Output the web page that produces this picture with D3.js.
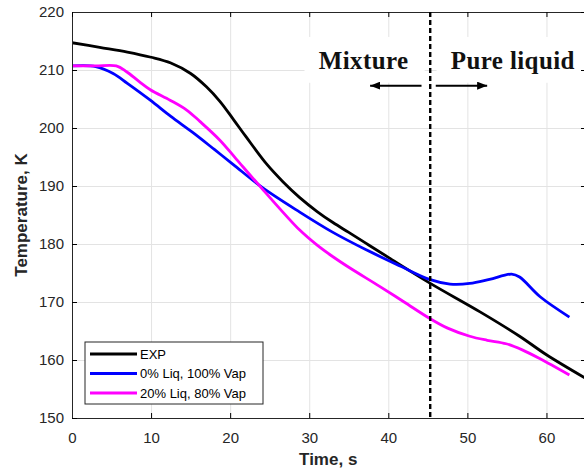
<!DOCTYPE html>
<html>
<head>
<meta charset="utf-8">
<script src="https://cdn.jsdelivr.net/npm/d3@7"></script>
<style>
  body { margin: 0; background: #fff; }
  svg { display: block; font-family: "Liberation Sans", Arial, sans-serif; }
</style>
</head>
<body>
<div id="chart"></div>
<script>
// data
var expT = [0, 3.5, 7, 10, 12.5, 15, 17, 18.7, 20.4, 22, 24.6, 26.7, 28.8, 31, 33, 35, 37.2, 40, 45.2, 51.6, 56.6, 60, 65];
var expV = [214.7, 213.9, 213.1, 212.2, 211.2, 209.4, 207.1, 204.6, 201.5, 198.5, 193.8, 190.7, 188.0, 185.6, 183.7, 182.0, 180.1, 177.7, 173.3, 168.3, 164.1, 160.9, 156.8];

var vapT = [0, 3, 5.2, 7, 9.9, 12.5, 15.3, 18, 20.4, 24, 28.8, 33, 37.2, 41.5, 45.2, 47.8, 50.3, 52.8, 55.6, 56.6, 59.2, 62.9];
var vapV = [210.7, 210.6, 209.4, 207.7, 204.8, 202.0, 199.2, 196.3, 193.7, 189.8, 185.5, 182.0, 179.0, 176.2, 173.9, 173.1, 173.2, 173.9, 174.8, 174.3, 170.9, 167.4];

var liqT = [0, 3, 5.6, 6.9, 8.5, 9.9, 12.4, 14.5, 16.2, 18.7, 20.8, 24, 28.8, 31, 33, 35.1, 38.9, 42, 45.2, 47.5, 50.3, 52.5, 54.9, 57, 59.2, 62.9];
var liqV = [210.7, 210.7, 210.7, 209.7, 208.0, 206.6, 204.8, 203.1, 201.1, 197.9, 194.6, 189.6, 182.4, 179.8, 177.8, 175.9, 172.7, 170.0, 167.2, 165.5, 164.1, 163.4, 162.8, 161.7, 160.2, 157.4];

var seriesNames = ["EXP", "0% Liq, 100% Vap", "20% Liq, 80% Vap"];
var seriesColors = ["#000000", "#0000ff", "#ff00ff"];

var xTicks = [0, 10, 20, 30, 40, 50, 60];
var yTicks = [150, 160, 170, 180, 190, 200, 210, 220];
var splitTime = 45.3;

var margin = { top: 12, right: -2, bottom: 56, left: 72 },
  W = 584, H = 474,
  width = W - margin.left - margin.right,
  height = H - margin.top - margin.bottom;

var svg = d3.select("#chart").append("svg")
  .attr("width", W)
  .attr("height", H);

var g = svg.append("g")
  .attr("transform", "translate(" + margin.left + "," + margin.top + ")");

var x = d3.scaleLinear().domain([0, 65]).range([0, width]);
var y = d3.scaleLinear().domain([150, 220]).range([height, 0]);

g.append("clipPath").attr("id", "clip")
  .append("rect").attr("width", width).attr("height", height);

// grid
g.append("g")
  .attr("transform", "translate(0," + height + ")")
  .call(d3.axisBottom(x).tickValues(xTicks).tickSize(-height).tickFormat(""))
  .call(s => s.select(".domain").remove())
  .selectAll("line").attr("stroke", "#e3e3e3");
g.append("g")
  .call(d3.axisLeft(y).tickValues(yTicks).tickSize(-width).tickFormat(""))
  .call(s => s.select(".domain").remove())
  .selectAll("line").attr("stroke", "#e3e3e3");

// white boxes behind the two annotations
var boxes = [[29.4, 44.6], [46.1, 66]];
g.selectAll(".abox").data(boxes).enter().append("rect")
  .attr("x", d => x(d[0]))
  .attr("width", d => x(d[1]) - x(d[0]))
  .attr("y", y(215.7))
  .attr("height", y(207.8) - y(215.7))
  .attr("fill", "#fff");

// lines
var line = d3.line()
  .x(d => x(d[0]))
  .y(d => y(d[1]))
  .curve(d3.curveCatmullRom.alpha(0.5));

var series = [
  d3.zip(expT, expV),
  d3.zip(vapT, vapV),
  d3.zip(liqT, liqV)
];

var plot = g.append("g").attr("clip-path", "url(#clip)");
plot.selectAll(".series").data(series).enter().append("path")
  .attr("d", line)
  .attr("fill", "none")
  .attr("stroke", (d, i) => seriesColors[i])
  .attr("stroke-width", 2.8)
  .attr("stroke-linejoin", "round");

// axes, ticks pointing inward like matlab
var tickCol = "#262626";
var xAx = g.append("g")
  .attr("transform", "translate(0," + height + ")")
  .call(d3.axisBottom(x).tickValues(xTicks).tickSizeInner(-5).tickSizeOuter(0).tickPadding(14));
var yAx = g.append("g")
  .call(d3.axisLeft(y).tickValues(yTicks).tickSizeInner(-5).tickSizeOuter(0).tickPadding(8));
g.append("g")
  .call(d3.axisTop(x).tickValues(xTicks).tickSizeInner(-5).tickSizeOuter(0).tickFormat(""));
g.append("g")
  .attr("transform", "translate(" + width + ",0)")
  .call(d3.axisRight(y).tickValues(yTicks).tickSizeInner(-5).tickSizeOuter(0).tickFormat(""));

g.selectAll(".domain").attr("stroke", tickCol);
xAx.selectAll("text").attr("font-size", 15).attr("fill", tickCol).attr("font-family", "Liberation Sans, Arial");
yAx.selectAll("text").attr("font-size", 15).attr("fill", tickCol).attr("font-family", "Liberation Sans, Arial");

// axis titles
svg.append("text")
  .attr("x", margin.left + x(32.4))
  .attr("y", 465)
  .attr("text-anchor", "middle")
  .attr("font-weight", "bold")
  .attr("font-size", 17)
  .attr("fill", tickCol)
  .text("Time, s");

svg.append("text")
  .attr("transform", "translate(27," + (margin.top + height / 2) + ") rotate(-90)")
  .attr("text-anchor", "middle")
  .attr("font-weight", "bold")
  .attr("font-size", 17)
  .attr("fill", tickCol)
  .text("Temperature, K");

// dashed split line
g.append("line")
  .attr("x1", x(splitTime)).attr("x2", x(splitTime))
  .attr("y1", 0).attr("y2", height)
  .attr("stroke", "#000")
  .attr("stroke-width", 2.4)
  .attr("stroke-dasharray", "5,3");

// annotations
var labels = [
  { text: "Mixture", t: 31.2, v: 210.1 },
  { text: "Pure liquid", t: 47.9, v: 210.1 }
];
g.selectAll(".alabel").data(labels).enter().append("text")
  .attr("x", d => x(d.t))
  .attr("y", d => y(d.v))
  .attr("font-family", "Liberation Serif, Times New Roman, serif")
  .attr("font-weight", "bold")
  .attr("font-size", 25)
  .attr("letter-spacing", 0.4)
  .attr("fill", "#111")
  .text(d => d.text);

svg.append("defs").append("marker")
  .attr("id", "head")
  .attr("viewBox", "0 0 10 8")
  .attr("refX", 10).attr("refY", 4)
  .attr("markerWidth", 10).attr("markerHeight", 8)
  .attr("markerUnits", "userSpaceOnUse")
  .attr("orient", "auto")
  .append("path").attr("d", "M0,0L10,4L0,8Z").attr("fill", "#000");

var arrows = [[44.2, 37.7], [46.0, 52.5]];
g.selectAll(".arrow").data(arrows).enter().append("line")
  .attr("x1", d => x(d[0])).attr("x2", d => x(d[1]))
  .attr("y1", y(207.3)).attr("y2", y(207.3))
  .attr("stroke", "#000")
  .attr("stroke-width", 2)
  .attr("marker-end", "url(#head)");

// legend
var lg = svg.append("g").attr("transform", "translate(85,342)");
lg.append("rect")
  .attr("width", 178).attr("height", 62)
  .attr("fill", "#fff")
  .attr("stroke", tickCol)
  .attr("stroke-width", 1);
seriesNames.forEach(function (name, i) {
  var yy = 12 + i * 19.5;
  lg.append("line")
    .attr("x1", 5).attr("x2", 52)
    .attr("y1", yy).attr("y2", yy)
    .attr("stroke", seriesColors[i])
    .attr("stroke-width", 3);
  lg.append("text")
    .attr("x", 55).attr("y", yy)
    .attr("dy", "0.35em")
    .attr("font-size", 13)
    .attr("fill", "#000")
    .text(name);
});
</script>
</body>
</html>
